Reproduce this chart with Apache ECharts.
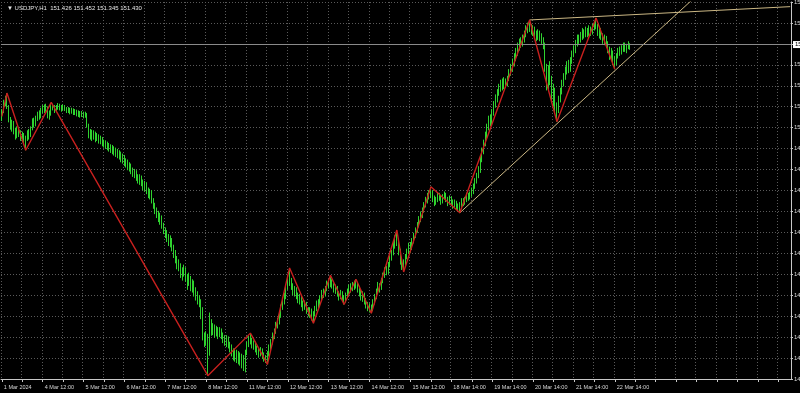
<!DOCTYPE html>
<html><head><meta charset="utf-8">
<script src="https://cdn.jsdelivr.net/npm/echarts@6/dist/echarts.min.js"></script>
<style>html,body{margin:0;padding:0;background:#000;}#c{width:800px;height:393px;}</style>
</head><body><div id="c"></div>
<script>
const chartTitle = '\u25BC USDJPY,H1  151.426 151.452 151.345 151.430';
const timeLabels = ['1 Mar 2024','4 Mar 12:00','5 Mar 12:00','6 Mar 12:00','7 Mar 12:00','8 Mar 12:00','11 Mar 12:00','12 Mar 12:00','13 Mar 12:00','14 Mar 12:00','15 Mar 12:00','18 Mar 14:00','19 Mar 14:00','20 Mar 14:00','21 Mar 14:00','22 Mar 14:00'];
const barsPerLabel = 24;
const barsPerGrid = 12;
const totalSlots = 464;
const firstOpen = 150.30;
const closes = [
150.42,150.55,150.62,150.50,150.30,150.20,150.25,150.12,150.05,150.15,
150.10,150.02,150.08,149.98,150.02,150.10,150.06,150.15,150.28,150.24,
150.32,150.38,150.35,150.44,150.48,150.45,150.50,150.40,150.38,150.48,
150.50,150.45,150.48,150.52,150.49,150.46,150.50,150.47,150.43,150.46,
150.42,150.45,150.40,150.43,150.38,150.41,150.37,150.40,150.36,150.38,
150.22,150.08,150.12,150.05,150.10,150.02,150.06,149.98,150.02,149.96,
149.92,149.95,149.88,149.91,149.85,149.88,149.82,149.84,149.78,149.80,
149.72,149.75,149.66,149.68,149.60,149.62,149.55,149.50,149.52,149.45,
149.40,149.44,149.36,149.30,149.34,149.25,149.20,149.22,149.10,149.02,
148.95,148.90,148.82,148.85,148.72,148.65,148.60,148.55,148.48,148.50,
148.40,148.30,148.22,148.15,148.10,148.02,147.98,148.05,147.95,147.88,
147.92,147.80,147.85,147.74,147.68,147.62,147.55,147.42,147.02,146.95,
147.05,146.80,147.25,147.12,147.18,147.10,147.15,147.08,147.14,147.06,
147.00,146.96,147.02,146.92,146.88,146.82,146.76,146.80,146.72,146.78,
146.70,146.74,146.66,146.80,146.92,147.00,146.98,146.90,146.94,146.86,
146.82,146.78,146.84,146.76,146.72,146.70,146.78,146.88,146.96,147.05,
147.12,147.20,147.28,147.36,147.48,147.56,147.64,147.78,147.90,147.86,
147.80,147.72,147.76,147.66,147.60,147.64,147.55,147.50,147.54,147.44,
147.40,147.45,147.34,147.38,147.46,147.54,147.50,147.62,147.70,147.66,
147.76,147.84,147.80,147.88,147.80,147.74,147.78,147.68,147.64,147.70,
147.62,147.58,147.66,147.72,147.78,147.74,147.82,147.78,147.84,147.76,
147.70,147.64,147.68,147.58,147.52,147.48,147.50,147.45,147.56,147.64,
147.72,147.80,147.76,147.88,147.96,148.04,148.00,148.12,148.22,148.30,
148.40,148.50,148.48,148.32,148.18,148.10,148.15,148.24,148.32,148.40,
148.36,148.48,148.56,148.64,148.72,148.80,148.86,148.94,149.02,149.08,
149.15,149.18,149.20,149.12,149.06,149.10,149.16,149.12,149.08,149.14,
149.18,149.10,149.06,149.12,149.08,149.02,149.06,149.00,148.96,149.02,
149.08,149.04,149.10,149.16,149.12,149.18,149.24,149.30,149.38,149.46,
149.55,149.70,149.82,149.95,150.06,150.18,150.30,150.26,150.40,150.52,
150.62,150.70,150.78,150.84,150.80,150.88,150.84,150.92,151.00,151.08,
151.16,151.24,151.32,151.40,151.48,151.44,151.52,151.60,151.66,151.72,
151.70,151.64,151.68,151.60,151.55,151.62,151.56,151.50,151.42,151.10,
150.80,151.05,150.90,150.62,150.74,150.48,150.45,150.60,150.72,150.84,
150.95,151.02,151.12,151.06,151.18,151.28,151.36,151.44,151.52,151.48,
151.56,151.62,151.58,151.64,151.60,151.66,151.62,151.70,151.74,151.72,
151.62,151.66,151.56,151.50,151.54,151.44,151.36,151.28,151.32,151.20,
151.15,151.26,151.34,151.30,151.38,151.42,151.36,151.40,151.44,151.43];
const highs = [
150.46,150.60,150.66,150.70,150.52,150.34,150.30,150.28,150.18,150.20,
150.18,150.14,150.12,150.10,150.06,150.14,150.16,150.20,150.32,150.33,
150.36,150.42,150.44,150.48,150.52,150.53,150.54,150.50,150.44,150.55,
150.54,150.52,150.52,150.55,150.54,150.52,150.53,150.52,150.49,150.49,
150.48,150.48,150.47,150.46,150.45,150.44,150.43,150.43,150.42,150.42,
150.40,150.24,150.16,150.15,150.14,150.12,150.10,150.08,150.06,150.04,
150.00,149.99,149.97,149.95,149.93,149.92,149.90,149.88,149.86,149.84,
149.82,149.79,149.77,149.72,149.70,149.66,149.64,149.58,149.56,149.54,
149.48,149.48,149.46,149.40,149.38,149.36,149.28,149.26,149.24,149.12,
149.05,148.98,148.93,148.90,148.86,148.75,148.68,148.64,148.58,148.56,
148.52,148.42,148.34,148.25,148.20,148.14,148.08,148.12,148.08,147.98,
148.00,147.95,147.90,147.88,147.78,147.72,147.66,147.60,147.48,147.10,
147.12,147.08,147.40,147.30,147.24,147.22,147.20,147.18,147.18,147.16,
147.10,147.06,147.06,147.04,146.96,146.92,146.86,146.86,146.84,146.82,
146.80,146.78,146.76,146.84,146.96,147.05,147.09,147.02,146.98,146.96,
146.90,146.86,146.88,146.86,146.80,146.76,146.82,146.92,147.00,147.10,
147.16,147.26,147.32,147.40,147.52,147.62,147.70,147.82,147.96,148.07,
147.92,147.84,147.80,147.78,147.70,147.68,147.66,147.58,147.58,147.56,
147.48,147.48,147.46,147.42,147.50,147.58,147.60,147.66,147.74,147.76,
147.80,147.88,147.90,147.96,147.90,147.84,147.82,147.80,147.72,147.74,
147.72,147.66,147.70,147.76,147.82,147.84,147.86,147.88,147.90,147.86,
147.80,147.74,147.72,147.70,147.62,147.56,147.54,147.52,147.60,147.68,
147.76,147.86,147.84,147.92,148.00,148.08,148.10,148.16,148.26,148.34,
148.46,148.56,148.64,148.50,148.36,148.22,148.20,148.28,148.36,148.45,
148.46,148.52,148.60,148.68,148.76,148.85,148.92,148.98,149.06,149.14,
149.20,149.24,149.29,149.24,149.16,149.14,149.20,149.20,149.16,149.18,
149.22,149.20,149.14,149.16,149.15,149.10,149.10,149.08,149.04,149.06,
149.12,149.12,149.14,149.20,149.20,149.22,149.28,149.34,149.42,149.50,
149.60,149.75,149.88,150.00,150.12,150.24,150.36,150.38,150.46,150.58,
150.68,150.76,150.84,150.90,150.92,150.94,150.92,150.96,151.06,151.14,
151.22,151.30,151.38,151.46,151.52,151.54,151.58,151.64,151.72,151.76,
151.80,151.74,151.72,151.70,151.64,151.66,151.64,151.60,151.54,151.46,
151.14,151.12,151.18,150.96,150.84,150.78,150.56,150.66,150.78,150.90,
151.00,151.10,151.18,151.20,151.24,151.34,151.42,151.50,151.58,151.58,
151.62,151.68,151.66,151.70,151.68,151.72,151.70,151.74,151.78,151.83,
151.74,151.70,151.68,151.60,151.58,151.56,151.48,151.40,151.38,151.34,
151.26,151.30,151.38,151.40,151.42,151.46,151.46,151.44,151.48,151.45];
const lows = [
150.28,150.40,150.50,150.46,150.26,150.15,150.12,150.08,150.00,150.02,
150.04,149.98,149.96,149.92,149.84,149.98,150.00,150.04,150.14,150.18,
150.20,150.28,150.30,150.32,150.40,150.40,150.42,150.32,150.30,150.36,
150.44,150.40,150.42,150.45,150.44,150.42,150.44,150.43,150.40,150.40,
150.38,150.39,150.37,150.37,150.35,150.34,150.33,150.34,150.32,150.33,
150.18,150.02,150.00,149.98,150.00,149.96,149.98,149.94,149.93,149.90,
149.88,149.86,149.84,149.82,149.80,149.78,149.76,149.74,149.72,149.70,
149.66,149.64,149.60,149.58,149.54,149.52,149.48,149.44,149.42,149.38,
149.34,149.32,149.30,149.24,149.22,149.18,149.12,149.10,149.04,148.96,
148.88,148.82,148.76,148.72,148.66,148.58,148.52,148.46,148.40,148.38,
148.32,148.22,148.14,148.05,148.02,147.92,147.88,147.94,147.86,147.74,
147.80,147.72,147.70,147.64,147.58,147.52,147.48,147.30,146.98,146.88,
146.90,146.45,146.75,147.05,147.06,147.02,147.04,147.00,147.03,147.00,
146.94,146.90,146.88,146.86,146.80,146.74,146.68,146.66,146.64,146.62,
146.60,146.56,146.52,146.50,146.76,146.88,146.92,146.86,146.84,146.80,
146.76,146.72,146.74,146.70,146.66,146.64,146.62,146.74,146.84,146.92,
147.00,147.08,147.16,147.22,147.32,147.44,147.52,147.60,147.74,147.80,
147.74,147.66,147.64,147.60,147.54,147.52,147.48,147.42,147.44,147.38,
147.34,147.32,147.28,147.24,147.34,147.42,147.46,147.48,147.58,147.62,
147.64,147.72,147.76,147.78,147.76,147.70,147.68,147.64,147.58,147.60,
147.56,147.52,147.55,147.62,147.68,147.70,147.72,147.74,147.76,147.70,
147.64,147.58,147.56,147.52,147.46,147.42,147.40,147.39,147.42,147.52,
147.60,147.68,147.70,147.74,147.84,147.92,147.96,147.98,148.08,148.18,
148.26,148.36,148.40,148.26,148.12,148.04,148.01,148.10,148.20,148.28,
148.30,148.34,148.44,148.52,148.60,148.68,148.76,148.82,148.90,148.98,
149.04,149.10,149.12,149.06,149.00,149.02,149.06,149.08,149.02,149.04,
149.10,149.06,149.00,149.02,149.02,148.96,148.98,148.94,148.92,148.90,
148.98,149.00,149.02,149.06,149.08,149.10,149.14,149.18,149.26,149.34,
149.42,149.50,149.66,149.78,149.90,150.02,150.14,150.20,150.22,150.36,
150.48,150.56,150.66,150.72,150.74,150.76,150.78,150.80,150.88,150.96,
151.02,151.10,151.18,151.26,151.34,151.38,151.40,151.46,151.54,151.60,
151.62,151.58,151.56,151.52,151.48,151.50,151.48,151.44,151.36,151.02,
150.74,150.76,150.82,150.55,150.50,150.40,150.27,150.40,150.56,150.68,
150.80,150.90,150.98,151.00,151.02,151.14,151.24,151.30,151.40,151.44,
151.46,151.50,151.52,151.54,151.54,151.56,151.56,151.58,151.64,151.66,
151.56,151.52,151.50,151.44,151.42,151.38,151.30,151.20,151.18,151.12,
151.06,151.12,151.22,151.26,151.28,151.32,151.32,151.30,151.36,151.35];
const zigzagPoints = [[0,150.35],[3,150.70],[14,149.84],[29,150.56],[121,146.45],[146,147.09],[156,146.62],[169,148.07],[183,147.24],[193,147.96],[201,147.52],[208,147.90],[217,147.39],[232,148.64],[236,148.01],[252,149.29],[269,148.90],[310,151.80],[326,150.27],[349,151.83],[360,151.06]];
const trendUpper = [[310,151.80],[463,152.00]];
const trendLower = [[269,148.90],[410,152.21]];
const lastPrice = 151.430;
const priceMin = 146.40, priceMax = 152.07, priceStep = 0.315;

const slots = [];
for (let i = 0; i < totalSlots; i++) slots.push('b' + i);
const candles = closes.map((c, i) => {
  const o = i === 0 ? firstOpen : closes[i - 1];
  return [o, c, Math.min(lows[i], o, c), Math.max(highs[i], o, c)];
});
const labelAt = i => (i % barsPerLabel === 0 && i / barsPerLabel < timeLabels.length);

const chart = echarts.init(document.getElementById('c'), null, {renderer: 'canvas'});
chart.setOption({
  backgroundColor: '#000',
  animation: false,
  title: {text: chartTitle, left: 2, top: 0, textStyle: {color: '#e6e6e6', fontSize: 6, fontWeight: 'normal', fontFamily: 'Liberation Sans'}},
  grid: {left: 1, right: 9, top: 2, bottom: 14, containLabel: false, outerBoundsMode: 'none'},
  xAxis: {
    type: 'category', data: slots, boundaryGap: true,
    axisLine: {show: true, lineStyle: {color: '#c8c8c8', width: 1}},
    axisTick: {show: true, alignWithLabel: true, interval: i => i % barsPerGrid === 0, length: 3, lineStyle: {color: '#c8c8c8'}},
    axisLabel: {show: true, interval: i => labelAt(i), formatter: (v, i) => labelAt(i) ? timeLabels[i / barsPerLabel] : '', align: 'left', fontSize: 5.5, color: '#d8d8d8', margin: 5, fontFamily: 'Liberation Sans', padding: [0,0,0,2]},
    splitLine: {show: true, interval: i => i % barsPerGrid === 0, lineStyle: {color: '#5a5a5a', type: [1, 2], width: 1}}
  },
  yAxis: [{
    type: 'value', position: 'right', min: priceMin, max: priceMax, interval: priceStep, scale: true,
    axisLine: {show: true, lineStyle: {color: '#c8c8c8', width: 1}},
    axisTick: {show: true, length: 2, lineStyle: {color: '#c8c8c8'}},
    axisLabel: {color: '#d8d8d8', fontSize: 6, margin: 3, fontFamily: 'Liberation Sans', formatter: v => v.toFixed(3)},
    splitLine: {show: true, lineStyle: {color: '#5a5a5a', type: [1, 2], width: 1}}
  }, {
    type: 'value', position: 'right', min: priceMin, max: priceMax, scale: true,
    axisLine: {show: false}, axisTick: {show: false}, splitLine: {show: false},
    axisLabel: {customValues: [lastPrice], color: '#000', backgroundColor: '#ffffff', fontSize: 6, margin: 2, padding: [1, 2, 0, 2], fontFamily: 'Liberation Sans', formatter: v => v.toFixed(3)}
  }],
  series: [{
    type: 'candlestick', data: candles, barWidth: 1,
    itemStyle: {color: '#2fd32f', color0: '#2fd32f', borderColor: '#2fd32f', borderColor0: '#2fd32f', borderWidth: 1},
    markLine: {silent: true, symbol: 'none', label: {show: false}, data: [{yAxis: lastPrice}], lineStyle: {color: '#8a8a8a', type: 'solid', width: 1}}
  }, {
    type: 'line', data: trendUpper, symbol: 'none', lineStyle: {color: '#cbb784', width: 1}, z: 4
  }, {
    type: 'line', data: trendLower, symbol: 'none', lineStyle: {color: '#cbb784', width: 1}, z: 4
  }, {
    type: 'line', data: zigzagPoints, symbol: 'none', lineStyle: {color: '#c8201e', width: 1.4}, z: 5
  }]
});
</script></body></html>
